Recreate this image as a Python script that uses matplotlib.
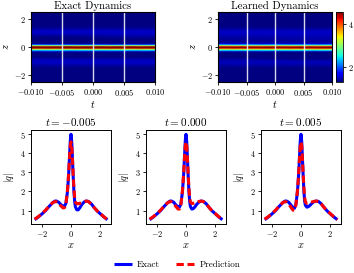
import numpy as np
import matplotlib
matplotlib.use("Agg")
import matplotlib.pyplot as plt

plt.rcParams.update({
    "font.family": "serif",
    "font.serif": ["cmr10"],
    "mathtext.fontset": "cm",
    "axes.formatter.use_mathtext": True,
    "axes.unicode_minus": True,
    "font.size": 6,
})

# spatial grid (x / z)
x_pts = [-2.5, -2.25, -2.0, -1.75, -1.5, -1.25, -1.1, -1.0, -0.85, -0.7, -0.55, -0.45,
         -0.35, -0.25, -0.2, -0.15, -0.1, -0.05, 0.0, 0.05, 0.1, 0.15, 0.2, 0.25, 0.3,
         0.4, 0.5, 0.6, 0.75, 0.9, 1.05, 1.2, 1.4, 1.6, 1.8, 2.0, 2.25, 2.5]

times = [-0.005, 0.000, 0.005]
titles = ["$t = -0.005$", "$t = 0.000$", "$t = 0.005$"]

exact_m005 = [0.52, 0.66, 0.82, 1.00, 1.22, 1.42, 1.50, 1.50, 1.44, 1.32, 1.22, 1.22,
              1.38, 1.95, 2.45, 3.05, 3.85, 4.65, 5.00, 4.60, 3.70, 2.80, 2.00, 1.50, 1.20,
              1.04, 1.04, 1.14, 1.32, 1.45, 1.50, 1.48, 1.35, 1.15, 0.98, 0.84, 0.67, 0.52]
pred_m005 = [0.55, 0.68, 0.84, 1.02, 1.24, 1.42, 1.47, 1.46, 1.38, 1.25, 1.14, 1.15,
             1.35, 2.00, 2.50, 3.10, 3.80, 4.40, 4.60, 4.40, 3.70, 2.90, 2.20, 1.70, 1.45,
             1.36, 1.36, 1.38, 1.42, 1.47, 1.50, 1.47, 1.34, 1.15, 0.98, 0.85, 0.68, 0.53]

exact_000 = [0.52, 0.66, 0.82, 1.00, 1.22, 1.42, 1.50, 1.50, 1.44, 1.30, 1.18, 1.18,
             1.36, 1.95, 2.45, 3.05, 3.85, 4.65, 5.00, 4.60, 3.70, 2.80, 2.00, 1.50, 1.22,
             1.08, 1.10, 1.18, 1.34, 1.45, 1.50, 1.48, 1.35, 1.15, 0.98, 0.84, 0.67, 0.52]
pred_000 = [0.55, 0.68, 0.84, 1.02, 1.24, 1.42, 1.47, 1.46, 1.36, 1.22, 1.08, 1.08,
            1.32, 2.00, 2.50, 3.10, 3.80, 4.40, 4.60, 4.40, 3.70, 2.90, 2.20, 1.70, 1.45,
            1.37, 1.38, 1.40, 1.44, 1.48, 1.50, 1.47, 1.34, 1.15, 0.98, 0.85, 0.68, 0.53]

exact_p005 = [0.52, 0.66, 0.82, 1.00, 1.22, 1.42, 1.50, 1.50, 1.44, 1.30, 1.15, 1.12,
              1.34, 1.95, 2.45, 3.05, 3.85, 4.65, 5.00, 4.60, 3.70, 2.80, 2.00, 1.50, 1.28,
              1.18, 1.20, 1.26, 1.38, 1.47, 1.50, 1.48, 1.35, 1.15, 0.98, 0.84, 0.67, 0.52]
pred_p005 = [0.55, 0.68, 0.84, 1.02, 1.24, 1.42, 1.47, 1.45, 1.35, 1.18, 1.02, 1.02,
             1.30, 2.00, 2.50, 3.10, 3.80, 4.40, 4.60, 4.40, 3.70, 2.90, 2.20, 1.70, 1.45,
             1.38, 1.40, 1.42, 1.45, 1.48, 1.50, 1.47, 1.34, 1.15, 0.98, 0.85, 0.68, 0.53]

exact_profiles = [exact_m005, exact_000, exact_p005]
pred_profiles = [pred_m005, pred_000, pred_p005]

# heatmap time columns
t_cols = [-0.010, -0.005, 0.000, 0.005, 0.010]
cbar_ticks = [2, 4]
vmin, vmax = 1.3, 4.56

W, H = 354, 273
fig = plt.figure(figsize=(W / 100, H / 100), dpi=100)

def box(l, t, r, b):
    return [l / W, 1 - b / H, (r - l) / W, (b - t) / H]

xa = np.array(x_pts)
E = np.array(exact_profiles)
P = np.array(pred_profiles)
E_field = np.column_stack([E[0], E[0], E[1], E[2], E[2]])
P_field = np.column_stack([P[0], P[0], P[1], P[2], P[2]])

ax1 = fig.add_axes(box(31, 12, 155, 82))
ax2 = fig.add_axes(box(218, 12, 332, 82))
cax = fig.add_axes(box(336, 12, 343, 82))

TICK = 6
for ax, field, title in [(ax1, E_field, "Exact Dynamics"), (ax2, P_field, "Learned Dynamics")]:
    m = ax.pcolormesh(t_cols, xa, field, shading="gouraud", cmap="jet", vmin=vmin, vmax=vmax,
                      rasterized=True)
    ax.set_xlim(-0.010, 0.010)
    ax.set_ylim(-2.5, 2.5)
    for tt in times:
        ax.axvline(tt, color="white", lw=1.0, alpha=0.85)
    ax.set_title(title, fontsize=7.8, pad=2)
    ax.set_xlabel("$t$", fontsize=7.5, labelpad=1)
    ax.set_ylabel("$z$", fontsize=7.5, labelpad=2)
    ax.set_xticks([-0.010, -0.005, 0.000, 0.005, 0.010])
    ax.set_xticklabels(["$-0.010$", "$-0.005$", "$0.000$", "$0.005$", "$0.010$"])
    ax.set_yticks([-2, 0, 2])
    ax.tick_params(labelsize=TICK, length=2, width=0.6, pad=1.5)

cb = fig.colorbar(m, cax=cax, ticks=cbar_ticks)
cb.ax.tick_params(labelsize=TICK, length=2, width=0.6, pad=1.5)
cb.outline.set_linewidth(0.6)

lefts = [31, 146, 261]
lines = []
for i in range(3):
    ax = fig.add_axes(box(lefts[i], 130, lefts[i] + 80, 224))
    l1, = ax.plot(x_pts, exact_profiles[i], color="blue", lw=2.2, solid_capstyle="butt")
    l2, = ax.plot(x_pts, pred_profiles[i], color="red", lw=2.2, ls=(0, (2.4, 1.2)))
    lines = [l1, l2]
    ax.set_title(titles[i], fontsize=8, pad=3)
    ax.set_xlabel("$x$", fontsize=7.5, labelpad=1)
    ax.set_ylabel("$|q|$", fontsize=7.5, labelpad=3)
    ax.set_xticks([-2, 0, 2])
    ax.set_yticks([1, 2, 3, 4, 5])
    ax.tick_params(labelsize=TICK, length=2, width=0.6, pad=1.5)
    for s in ax.spines.values():
        s.set_linewidth(0.7)

fig.legend(lines, ["Exact", "Prediction"], loc="center", bbox_to_anchor=(0.5, 1 - 265 / H),
           ncol=2, frameon=False, fontsize=6.5, handlelength=2.0, columnspacing=1.8,
           handletextpad=0.6)

fig.savefig("out.png", dpi=100)
